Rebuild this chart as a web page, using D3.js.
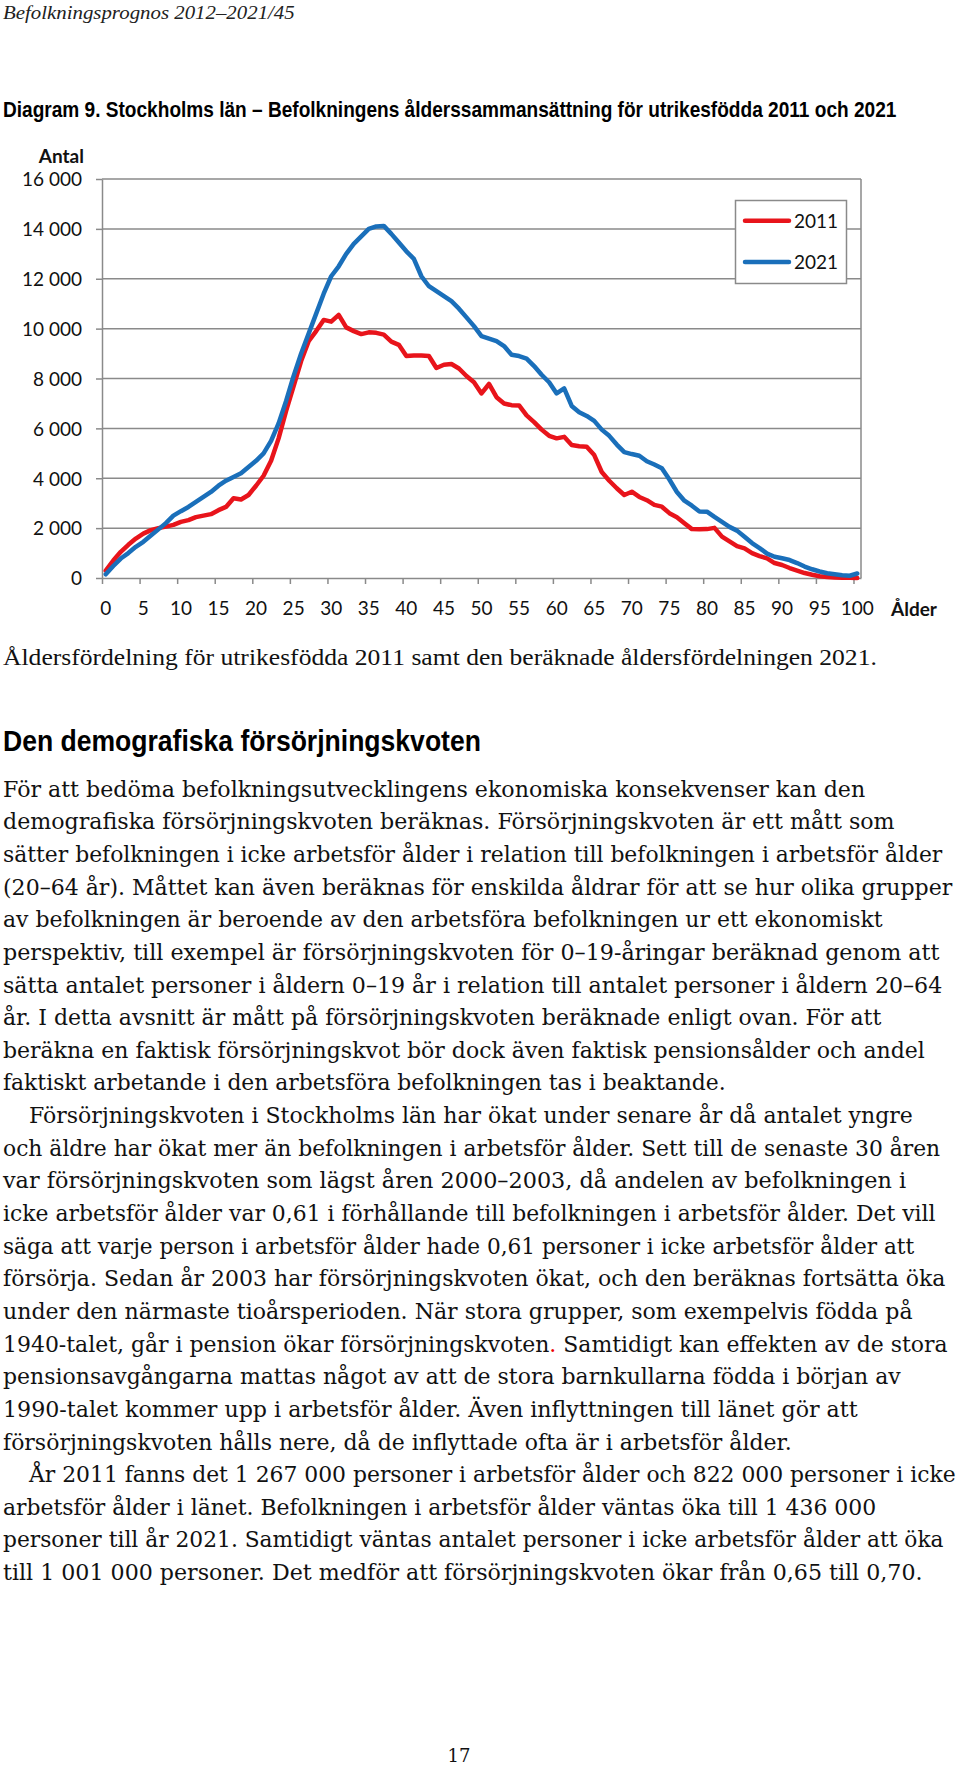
<!DOCTYPE html>
<html><head><meta charset="utf-8">
<script src="https://cdn.jsdelivr.net/npm/d3@7"></script>
<style>body{margin:0;background:#fff} svg{display:block}</style>
</head><body><svg id="c" width="960" height="1768"></svg>
<script>
// ---------- DATA ----------
const ages = d3.range(0, 101);
const pop2011 = [300,700,1050,1330,1580,1780,1920,2000,2060,2130,
  2250,2320,2440,2500,2560,2720,2850,3200,3150,3330,
  3700,4100,4700,5600,6700,7700,8700,9500,9900,10350,
  10280,10550,10050,9900,9780,9850,9830,9760,9480,9350,
  8900,8920,8920,8900,8420,8550,8580,8400,8100,7850,
  7400,7780,7250,7000,6930,6920,6520,6250,5950,5700,
  5600,5660,5330,5280,5260,4930,4250,3900,3600,3330,
  3460,3250,3120,2930,2860,2600,2440,2200,1960,1950,
  1960,2010,1660,1470,1280,1190,1000,880,790,600,
  520,400,300,200,130,70,40,20,10,5,5];
const pop2021 = [150,480,780,1000,1250,1450,1700,1950,2200,2500,
  2680,2850,3050,3250,3450,3700,3900,4050,4200,4450,
  4700,5000,5500,6200,7100,8100,9000,9800,10600,11400,
  12100,12500,13000,13400,13700,14000,14100,14120,13800,13450,
  13100,12800,12100,11700,11500,11300,11100,10800,10450,10100,
  9700,9600,9500,9300,8950,8900,8800,8500,8150,7850,
  7400,7600,6900,6650,6500,6300,5950,5700,5350,5050,
  4970,4900,4680,4550,4400,3950,3450,3100,2900,2670,
  2660,2450,2250,2050,1900,1650,1400,1200,980,850,
  790,720,600,460,350,260,190,150,110,90,180];
const seriesNames = ["2011", "2021"];
const yTicks = [0,2000,4000,6000,8000,10000,12000,14000,16000];
const xTickLabels = d3.range(0, 101, 5);

// ---------- TEXT ----------
const headerText = "Befolkningsprognos 2012–2021/45";
const titleText = "Diagram 9. Stockholms län – Befolkningens ålderssammansättning för utrikesfödda 2011 och 2021";
const yTitle = "Antal";
const xTitle = "Ålder";
const captionText = "Åldersfördelning för utrikesfödda 2011 samt den beräknade åldersfördelningen 2021.";
const headingText = "Den demografiska försörjningskvoten";
const bodyLines = [
 "För att bedöma befolkningsutvecklingens ekonomiska konsekvenser kan den",
 "demografiska försörjningskvoten beräknas. Försörjningskvoten är ett mått som",
 "sätter befolkningen i icke arbetsför ålder i relation till befolkningen i arbetsför ålder",
 "(20–64 år). Måttet kan även beräknas för enskilda åldrar för att se hur olika grupper",
 "av befolkningen är beroende av den arbetsföra befolkningen ur ett ekonomiskt",
 "perspektiv, till exempel är försörjningskvoten för 0–19-åringar beräknad genom att",
 "sätta antalet personer i åldern 0–19 år i relation till antalet personer i åldern 20–64",
 "år. I detta avsnitt är mått på försörjningskvoten beräknade enligt ovan. För att",
 "beräkna en faktisk försörjningskvot bör dock även faktisk pensionsålder och andel",
 "faktiskt arbetande i den arbetsföra befolkningen tas i beaktande.",
 "Försörjningskvoten i Stockholms län har ökat under senare år då antalet yngre",
 "och äldre har ökat mer än befolkningen i arbetsför ålder. Sett till de senaste 30 åren",
 "var försörjningskvoten som lägst åren 2000–2003, då andelen av befolkningen i",
 "icke arbetsför ålder var 0,61 i förhållande till befolkningen i arbetsför ålder. Det vill",
 "säga att varje person i arbetsför ålder hade 0,61 personer i icke arbetsför ålder att",
 "försörja. Sedan år 2003 har försörjningskvoten ökat, och den beräknas fortsätta öka",
 "under den närmaste tioårsperioden. När stora grupper, som exempelvis födda på",
 "1940-talet, går i pension ökar försörjningskvoten| Samtidigt kan effekten av de stora",
 "pensionsavgångarna mattas något av att de stora barnkullarna födda i början av",
 "1990-talet kommer upp i arbetsför ålder. Även inflyttningen till länet gör att",
 "försörjningskvoten hålls nere, då de inflyttade ofta är i arbetsför ålder.",
 "År 2011 fanns det 1 267 000 personer i arbetsför ålder och 822 000 personer i icke",
 "arbetsför ålder i länet. Befolkningen i arbetsför ålder väntas öka till 1 436 000",
 "personer till år 2021. Samtidigt väntas antalet personer i icke arbetsför ålder att öka",
 "till 1 001 000 personer. Det medför att försörjningskvoten ökar från 0,65 till 0,70."
];
const pageNumber = "17";

// ---------- LAYOUT ----------
const L = {left:102, right:861, top:179, bottom:578};
const bodyIndent = [0,0,0,0,0,0,0,0,0,0,1,0,0,0,0,0,0,0,0,0,0,1,0,0,0];
const bodyRight = [866,895,943,953,883,940,943,882,925,726,913,941,907,936,915,946,913,948,901,858,792,956,877,944,923];

const svg = d3.select("#c");
const gridColor = "#8a8a8a";
const red = "#e8141b", blue = "#1a6fba";
const chartFont = "Lato, Carlito, Calibri, sans-serif";
const narrowFont = "'Liberation Sans', Arial, sans-serif";
const bodyFont = "'DejaVu Serif', 'Liberation Serif', serif";
const captionFont = "'Liberation Serif', 'DejaVu Serif', serif";

// place a text so that it spans [x0, x1] by horizontal scaling
function fitText(sel, x0, y0, x1) {
  const w = sel.node().getComputedTextLength();
  sel.attr("x", 0).attr("y", 0)
     .attr("transform", `translate(${x0},${y0}) scale(${(x1 - x0) / w},1)`);
  return sel;
}

const x = d3.scaleBand().domain(ages).range([L.left, L.right]).padding(0);
const xb = d3.scaleLinear().domain([0, ages.length]).range([L.left, L.right]);
const y = d3.scaleLinear().domain([0, 16000]).range([L.bottom, L.top]);
const cx = a => x(a) + x.bandwidth()/2;

// header & title
fitText(svg.append("text").attr("font-family",captionFont).attr("font-style","italic")
  .attr("font-size",19).attr("fill","#222").text(headerText), 3, 19, 295);
fitText(svg.append("text").attr("font-family",narrowFont)
  .attr("font-weight","bold").attr("font-size",22).attr("fill","#000").text(titleText), 3, 117, 897);

// gridlines
svg.append("g").selectAll("line").data(yTicks.filter(d => d > 0)).join("line")
  .attr("x1", L.left).attr("x2", L.right).attr("y1", d => y(d)).attr("y2", d => y(d))
  .attr("stroke", gridColor).attr("stroke-width", 1.5);
svg.append("line").attr("x1",L.right).attr("x2",L.right).attr("y1",L.top).attr("y2",L.bottom)
  .attr("stroke",gridColor).attr("stroke-width",1.5);

// y axis
const loc = d3.formatLocale({decimal:",", thousands:"\u2009", grouping:[3], currency:["",""]});
const fmt = v => loc.format(",")(v).replace("\u2009", " ");
const yAxis = svg.append("g").attr("transform",`translate(${L.left},0)`)
  .call(d3.axisLeft(y).tickValues(yTicks).tickSize(6).tickSizeOuter(0).tickPadding(14).tickFormat(fmt));
yAxis.select(".domain").attr("stroke",gridColor).attr("stroke-width",1.5);
yAxis.selectAll(".tick line").attr("stroke",gridColor).attr("stroke-width",1.5);
yAxis.selectAll(".tick text").attr("font-family",chartFont).attr("font-size",19).attr("fill","#111").attr("dy","0.36em");

// x axis: tick marks at category boundaries
const xMarks = svg.append("g").attr("transform",`translate(0,${L.bottom})`)
  .call(d3.axisBottom(xb).tickValues(d3.range(0, ages.length, 5)).tickSize(6).tickSizeOuter(0).tickFormat(""));
xMarks.select(".domain").attr("stroke",gridColor).attr("stroke-width",1.5);
xMarks.selectAll(".tick line").attr("stroke",gridColor).attr("stroke-width",1.5);
const xLab = svg.append("g").attr("transform",`translate(0,${L.bottom})`)
  .call(d3.axisBottom(x).tickValues(xTickLabels).tickSize(0).tickPadding(24));
xLab.select(".domain").remove();
xLab.selectAll(".tick text").attr("font-family",chartFont).attr("font-size",19).attr("fill","#111");

// axis titles
svg.append("text").attr("x",84).attr("y",163).attr("text-anchor","end")
  .attr("font-family",chartFont).attr("font-weight","bold").attr("font-size",19).attr("fill","#111").text(yTitle);
svg.append("text").attr("x",891).attr("y",616)
  .attr("font-family",chartFont).attr("font-weight","bold").attr("font-size",19).attr("fill","#111").text(xTitle);

// lines
const line = d3.line().x((d,i) => cx(ages[i])).y(d => y(d));
const series = [{name:seriesNames[0], values:pop2011, color:red},{name:seriesNames[1], values:pop2021, color:blue}];
svg.append("g").selectAll("path").data(series).join("path")
  .attr("d", d => line(d.values)).attr("fill","none").attr("stroke", d => d.color)
  .attr("stroke-width",4.5).attr("stroke-linejoin","round").attr("stroke-linecap","round");

// legend
const lg = svg.append("g");
lg.append("rect").attr("x",735.5).attr("y",200.5).attr("width",111).attr("height",83)
  .attr("fill","#fff").attr("stroke",gridColor).attr("stroke-width",1.5);
const li = lg.selectAll("g.it").data(series).join("g").attr("class","it")
  .attr("transform",(d,i) => `translate(0,${220.7 + i*41.3})`);
li.append("line").attr("x1",745).attr("x2",789).attr("stroke",d=>d.color).attr("stroke-width",4.5).attr("stroke-linecap","round");
li.append("text").attr("x",794).attr("y",7).attr("font-family",chartFont).attr("font-size",19).attr("fill","#111").text(d=>d.name);

// caption
fitText(svg.append("text").attr("font-family",captionFont).attr("font-size",23)
  .attr("fill","#111").text(captionText), 3, 665, 877);

// heading
fitText(svg.append("text").attr("font-family",narrowFont)
  .attr("font-weight","bold").attr("font-size",29).attr("fill","#000").text(headingText), 3, 751, 481);

// body
bodyLines.forEach((t, i) => {
  const x0 = bodyIndent[i] ? 29 : 3;
  const tx = svg.append("text").attr("font-family", bodyFont).attr("font-size", 21.5).attr("fill","#111");
  if (t.includes("|")) {
    const [a, b] = t.split("|");
    tx.append("tspan").text(a);
    tx.append("tspan").attr("fill","#e00").text(".");
    tx.append("tspan").text(b);
  } else tx.text(t);
  fitText(tx, x0, 796.7 + i*32.64, bodyRight[i]);
});

// page number
svg.append("text").attr("x",459).attr("y",1762).attr("text-anchor","middle")
  .attr("font-family",bodyFont).attr("font-size",18).attr("fill","#111").text(pageNumber);
</script></body></html>
